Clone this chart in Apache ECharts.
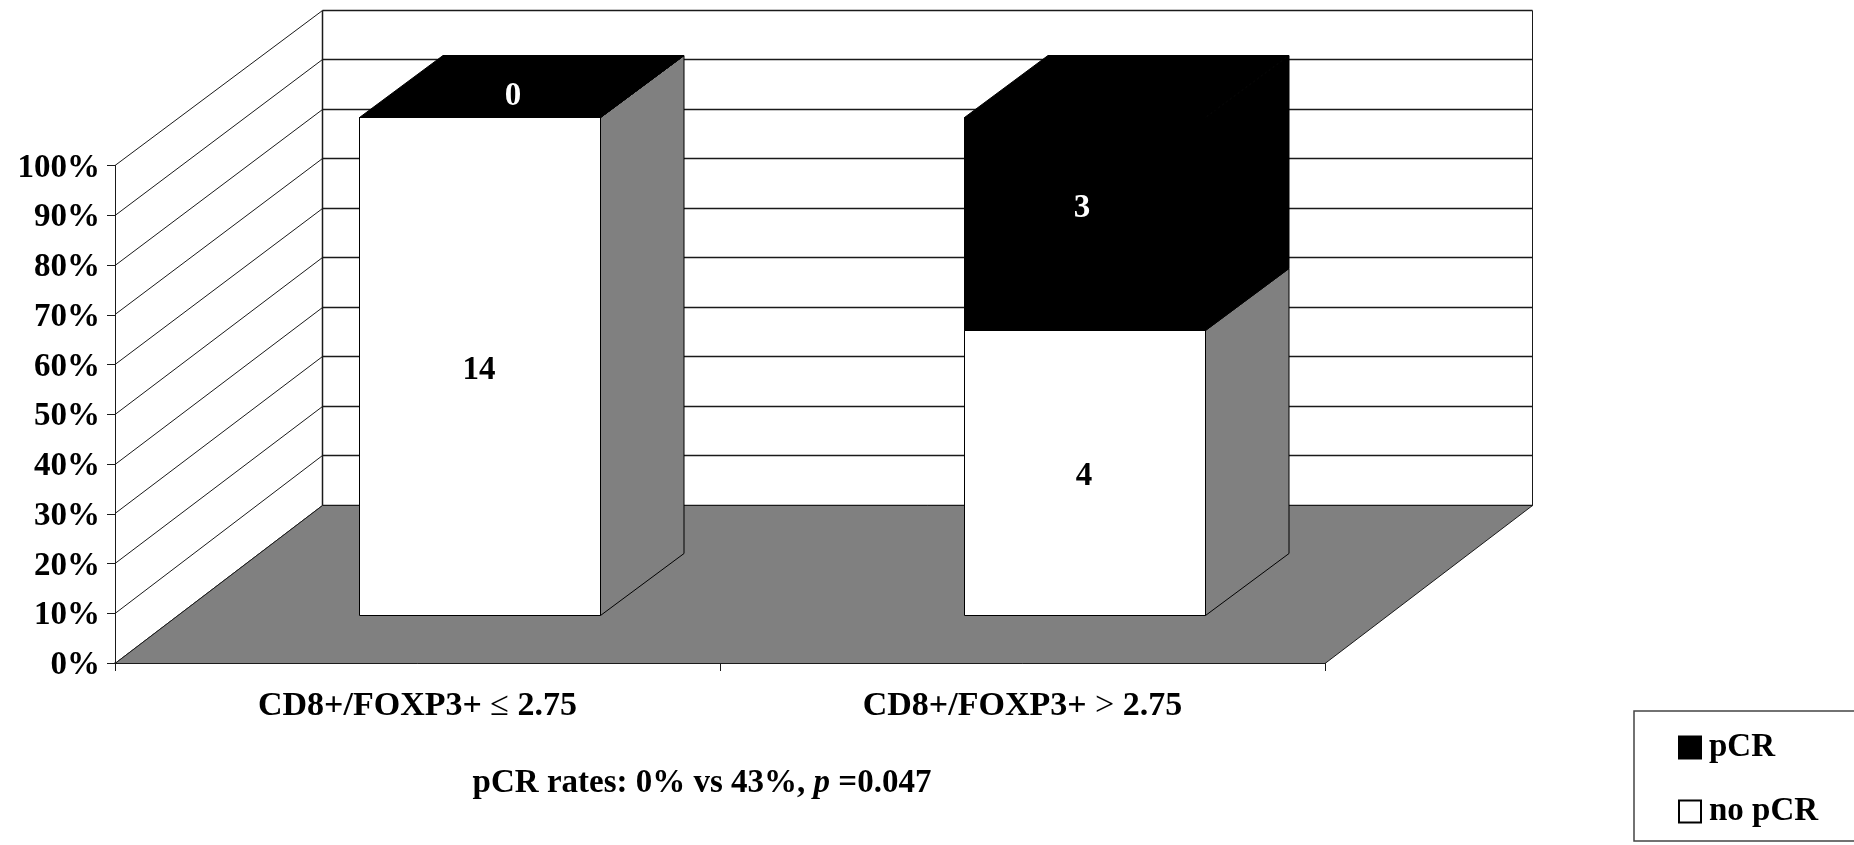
<!DOCTYPE html>
<html>
<head>
<meta charset="utf-8">
<style>
  html, body { margin: 0; padding: 0; background: #fff; }
  #main { width: 1854px; height: 845px; }
</style>
<script src="https://cdn.jsdelivr.net/npm/echarts@6/dist/echarts.min.js"></script>
</head>
<body>
<div id="main"></div>
<script>
// patient counts per group
const categories = ['CD8+/FOXP3+ ≤ 2.75', 'CD8+/FOXP3+ > 2.75'];
const noPcrCounts = [14, 4];
const pcrCounts = [0, 3];
const yTicks = [0, 10, 20, 30, 40, 50, 60, 70, 80, 90, 100];
const subtitle = 'pCR rates: 0% vs 43%, ';
const subtitleP = 'p';
const subtitleEnd = ' =0.047';

const FONT = '"Liberation Serif", "Times New Roman", serif';
const DARK = '#1a1a1a';
const GREY = '#808080';

// fake 3d: how far the back wall sits from the front plane, in px
const wallDx = 207.5;
const wallDy = 158;
const wallTopDy = 155.5; // back wall comes out slightly shorter than the axis
// where a bar sits inside that depth
const barFrontDx = 62;
const barFrontDy = 48;
const barDx = 83.5;
const barDy = 62;
const barWidthRatio = 0.398;
// the numbers are not quite centred in the original
const pcrLabelShift = [[33, -21], [-3, -16]];
const noPcrLabelShift = [[-1, 4], [-1, 3]];

const noPcrRows = categories.map((c, i) => {
    const share = noPcrCounts[i] / (noPcrCounts[i] + pcrCounts[i]) * 100;
    return [i, 0, share, noPcrCounts[i]];
});
const pcrRows = categories.map((c, i) => {
    const share = noPcrCounts[i] / (noPcrCounts[i] + pcrCounts[i]) * 100;
    return [i, share, 100, pcrCounts[i]];
});

function crisp(v) {
    return Math.round(v - 0.5) + 0.5;
}

function wallDepthY(tick) {
    return wallDy + (wallTopDy - wallDy) * tick / 100;
}

function renderWall(params, api) {
    const box = params.coordSys;
    const tick = api.value(1);
    const p = api.coord([0, tick]);
    const x0 = box.x;
    const y0 = crisp(p[1]);
    const backY = crisp(p[1] - wallDepthY(tick));
    const children = [
        {
            type: 'line',
            shape: { x1: x0, y1: y0, x2: x0 + wallDx, y2: backY },
            style: { stroke: DARK, lineWidth: 1 }
        },
        {
            type: 'line',
            shape: { x1: x0 + wallDx, y1: backY, x2: x0 + box.width + wallDx, y2: backY },
            style: { stroke: DARK, lineWidth: 1.5 }
        }
    ];
    if (tick === 100) {
        const floorY = crisp(api.coord([0, 0])[1] - wallDepthY(0));
        children.push({
            type: 'line',
            shape: { x1: x0 + wallDx, y1: backY, x2: x0 + wallDx, y2: floorY },
            style: { stroke: DARK, lineWidth: 1.5 }
        });
        children.push({
            type: 'line',
            shape: { x1: x0 + box.width + wallDx, y1: backY, x2: x0 + box.width + wallDx, y2: floorY },
            style: { stroke: DARK, lineWidth: 1 }
        });
    }
    return { type: 'group', children: children };
}

function renderFloor(params, api) {
    const box = params.coordSys;
    const y0 = crisp(api.coord([0, 0])[1]);
    const backY = crisp(api.coord([0, 0])[1] - wallDepthY(0));
    return {
        type: 'polygon',
        shape: {
            points: [
                [box.x, y0],
                [box.x + wallDx, backY],
                [box.x + box.width + wallDx, backY],
                [box.x + box.width, y0]
            ]
        },
        style: { fill: GREY, stroke: DARK, lineWidth: 1 }
    };
}

function makeBarRenderer(frontColor, sideColor, textColor, isTop) {
    return function (params, api) {
        const i = api.value(0);
        const low = api.coord([i, api.value(1)]);
        const high = api.coord([i, api.value(2)]);
        const width = api.size([1, 0])[0] * barWidthRatio;
        const left = crisp(low[0] + barFrontDx - width / 2);
        const right = crisp(left + width);
        const yLow = crisp(low[1] - barFrontDy);
        const yHigh = crisp(high[1] - barFrontDy);
        const stroke = { stroke: '#000', lineWidth: 1 };
        const children = [
            {
                type: 'polygon',
                shape: { points: [[right, yLow], [right + barDx, yLow - barDy], [right + barDx, yHigh - barDy], [right, yHigh]] },
                style: Object.assign({ fill: sideColor }, stroke)
            },
            {
                type: 'rect',
                shape: { x: left, y: yHigh, width: right - left, height: yLow - yHigh },
                style: Object.assign({ fill: frontColor }, stroke)
            }
        ];
        if (isTop) {
            children.push({
                type: 'polygon',
                shape: { points: [[left, yHigh], [left + barDx, yHigh - barDy], [right + barDx, yHigh - barDy], [right, yHigh]] },
                style: { fill: frontColor, stroke: '#000', lineWidth: 1 }
            });
        }
        const shift = isTop ? pcrLabelShift[i] : noPcrLabelShift[i];
        children.push({
            type: 'text',
            style: {
                text: String(api.value(3)),
                x: (left + right) / 2 + shift[0],
                y: (yLow + yHigh) / 2 + shift[1],
                fill: textColor,
                font: 'bold 33px ' + FONT,
                align: 'center',
                verticalAlign: 'middle'
            }
        });
        return { type: 'group', children: children };
    };
}

const chart = echarts.init(document.getElementById('main'));
chart.setOption({
    backgroundColor: '#fff',
    animation: false,
    textStyle: { fontFamily: FONT },
    title: {
        left: 697,
        top: 762,
        textAlign: 'center',
        text: '{a|' + subtitle + '}{i|' + subtitleP + '}{a|' + subtitleEnd + '}',
        textStyle: {
            rich: {
                a: { fontFamily: FONT, fontWeight: 'bold', fontSize: 33, color: '#000' },
                i: { fontFamily: FONT, fontWeight: 'bold', fontStyle: 'italic', fontSize: 33, color: '#000' }
            }
        }
    },
    legend: {
        orient: 'vertical',
        left: 1634,
        top: 711,
        padding: [20, 60, 13, 44],
        itemWidth: 22,
        itemHeight: 22,
        itemGap: 31,
        selectedMode: false,
        borderColor: '#444',
        borderWidth: 1.5,
        textStyle: { fontFamily: FONT, fontWeight: 'bold', fontSize: 33, color: '#000', padding: [11, 0, 0, 3] },
        data: [{ name: 'pCR', icon: 'rect' }, { name: 'no pCR', icon: 'rect' }]
    },
    grid: { left: 115, right: 529, top: 165.5, bottom: 182, outerBoundsMode: 'none' },
    xAxis: {
        type: 'category',
        data: categories,
        axisLine: { lineStyle: { color: DARK, width: 1.5 } },
        axisTick: { show: true, length: 8, lineStyle: { color: DARK } },
        axisLabel: {
            margin: 26,
            interval: 0,
            formatter: function (v) {
                const m = v.match(/^(.*? )([≤>])( .*)$/);
                return '{b|' + m[1] + '}{s|' + m[2] + '}{b|' + m[3] + '}';
            },
            rich: {
                b: { fontFamily: FONT, fontWeight: 'bold', fontSize: 34, color: '#000' },
                s: { fontFamily: FONT, fontWeight: 'normal', fontSize: 34, color: '#000' }
            }
        }
    },
    yAxis: {
        type: 'value',
        min: 0,
        max: 100,
        interval: 10,
        splitLine: { show: false },
        axisLine: { show: true, lineStyle: { color: DARK, width: 1 } },
        axisTick: { show: true, length: 8, lineStyle: { color: DARK } },
        axisLabel: {
            margin: 15,
            formatter: function (v) {
                return '{t|' + v + '%}';
            },
            rich: {
                t: { fontFamily: FONT, fontWeight: 'bold', fontSize: 33, color: '#000', padding: [5, 0, 0, 0] }
            }
        }
    },
    series: [
        {
            type: 'custom',
            name: 'walls',
            silent: true,
            renderItem: renderWall,
            encode: { x: 0, y: 1 },
            data: yTicks.map(t => [0, t])
        },
        {
            type: 'custom',
            name: 'floor',
            silent: true,
            renderItem: renderFloor,
            encode: { x: 0, y: 1 },
            data: [[0, 0]]
        },
        {
            type: 'custom',
            name: 'no pCR',
            silent: true,
            itemStyle: { color: '#fff', borderColor: '#000', borderWidth: 1 },
            renderItem: makeBarRenderer('#fff', GREY, '#000', false),
            encode: { x: 0, y: [1, 2] },
            data: noPcrRows
        },
        {
            type: 'custom',
            name: 'pCR',
            silent: true,
            itemStyle: { color: '#000', borderColor: '#000', borderWidth: 1 },
            renderItem: makeBarRenderer('#000', '#000', '#fff', true),
            encode: { x: 0, y: [1, 2] },
            data: pcrRows
        }
    ]
});
</script>
</body>
</html>
